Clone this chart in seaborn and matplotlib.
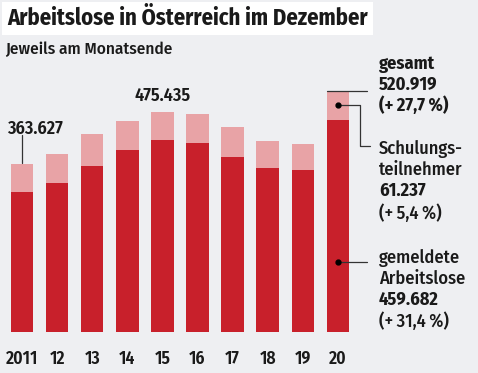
import matplotlib
matplotlib.use("Agg")
import matplotlib.pyplot as plt
import seaborn as sns
import numpy as np
import pandas as pd

years = ["2011", "12", "13", "14", "15", "16", "17", "18", "19", "20"]
arbeitslose = [303000, 322000, 360000, 393000, 416000, 410000, 378000, 355000, 350000, 459682]
schulung = [60627, 62500, 68000, 63000, 59435, 62000, 65000, 58000, 57500, 61237]
gesamt = [a + s for a, s in zip(arbeitslose, schulung)]

BG = "#EEEFF2"
DARK = "#C8202B"
LIGHT = "#E8A3A6"
TXT = "#1a1a1a"

sns.set_theme(style="white")
plt.rcParams["font.family"] = ["Fira Sans Condensed", "Roboto Condensed", "Barlow Semi Condensed", "DejaVu Sans"]

W, H = 478, 373
fig = plt.figure(figsize=(W / 100, H / 100), dpi=100, facecolor=BG)

def fx(x):
    return x / W

def fy(y):
    return 1 - y / H

ax = fig.add_axes([fx(4.45), fy(332), fx(355.4) - fx(4.45), 277.3 / H])
ax.set_facecolor(BG)

df = pd.DataFrame({"Jahr": years, "gesamt": gesamt, "arbeitslose": arbeitslose})
sns.barplot(data=df, x="Jahr", y="gesamt", color=LIGHT, saturation=1, width=0.64, ax=ax)
sns.barplot(data=df, x="Jahr", y="arbeitslose", color=DARK, saturation=1, width=0.64, ax=ax)
for p in ax.patches:
    p.set_linewidth(0)

ax.set_xlim(-0.5, 9.5)
ax.set_ylim(0, 600000)
ax.set_xlabel("")
ax.set_ylabel("")
ax.set_yticks([])
for s in ax.spines.values():
    s.set_visible(False)
ax.tick_params(axis="x", length=0, pad=13, labelsize=12.7, labelcolor=TXT)
for t in ax.get_xticklabels():
    t.set_fontweight("semibold")

def fmt(v):
    return f"{v:,}".replace(",", ".")

# label 2011
ax.text(0.38, gesamt[0] + 77000, fmt(gesamt[0]), ha="center", va="center",
        fontsize=13, fontweight="semibold", color=TXT)
ax.plot([0, 0], [gesamt[0] + 1500, gesamt[0] + 62000], color="#333333", lw=0.9)
# label 2015
ax.text(4, gesamt[4] + 35000, fmt(gesamt[4]), ha="center", va="center",
        fontsize=13, fontweight="semibold", color=TXT)

# right callouts
i = 9
ax.plot([i - 0.32, 9.82], [gesamt[i], gesamt[i]], color="#333333", lw=0.9, clip_on=False)
ys = arbeitslose[i] + schulung[i] / 2
ax.plot([i, 9.63, 9.63, 9.91], [ys, ys, 402500, 402500], color="#333333", lw=0.9, clip_on=False)
ax.plot([i], [ys], "o", color="black", ms=3.5, clip_on=False)
ya = 151000
ax.plot([i, 9.84], [ya, ya], color="#333333", lw=0.9, clip_on=False)
ax.plot([i], [ya], "o", color="black", ms=3.5, clip_on=False)

tx = fx(379)
fs = 13.2
TS = "\u2009"
def line(y, s, bold=False):
    fig.text(tx, fy(y), s, ha="left", va="center", fontsize=fs, color=TXT,
             fontweight="bold" if bold else "medium")

line(64, "gesamt", True)
line(85, fmt(gesamt[9]), True)
line(105.5, f"(+{TS}27,7{TS}%)", True)
line(149, "Schulungs-")
line(170, "teilnehmer")
line(191, fmt(schulung[9]), True)
line(213, f"(+{TS}5,4{TS}%)")
line(257.5, "gemeldete")
line(279, "Arbeitslose")
line(300, fmt(arbeitslose[9]), True)
line(321, f"(+{TS}31,4{TS}%)")

# title
fig.text(fx(7), fy(18.5), "Arbeitslose in Österreich im Dezember", ha="left", va="center",
         fontsize=16.3, fontweight="bold", color=TXT,
         bbox=dict(boxstyle="square,pad=0.22", fc="white", ec="none"))
fig.text(fx(5), fy(49), "Jeweils am Monatsende", ha="left", va="center",
         fontsize=12.4, fontweight="medium", color=TXT)

fig.savefig("out.png", dpi=100, facecolor=BG)
